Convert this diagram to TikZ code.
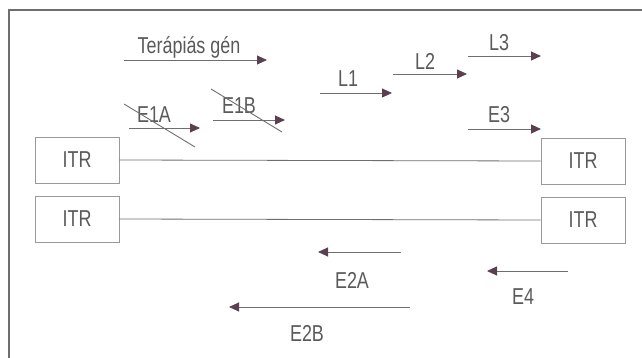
\documentclass[tikz,border=0pt]{standalone}
\usepackage{fontspec}
\setmainfont{Liberation Sans}[FakeStretch=0.78]
\usepackage{xcolor}
\usetikzlibrary{arrows.meta}
\definecolor{txtgray}{HTML}{5A5A5A}
\definecolor{linegray}{HTML}{6E6E6E}
\definecolor{tipred}{HTML}{5B4050}

\begin{document}
\begin{tikzpicture}[x=1pt,y=-1pt,font=\fontsize{23}{27}\selectfont,
  lbl/.style={text=txtgray,inner sep=0pt},
  itrbox/.style={draw=linegray!70,line width=0.6pt,minimum width=84pt,minimum height=46pt,text=txtgray,inner sep=0pt},
  dna/.style={draw=linegray,line width=0.8pt},
  gene/.style={draw=linegray,line width=0.9pt,-{Triangle[length=10pt,width=9pt,fill=tipred,color=tipred]}},
  strike/.style={draw=linegray,line width=0.9pt}]
\useasboundingbox (0,0) rectangle (642,358);
\draw[linegray,line width=1.3pt] (9,358) -- (9,10) -- (642,10);

\node[itrbox] (itrA) at (77,160) {ITR};
\node[itrbox] (itrB) at (583,161) {ITR};
\node[itrbox] (itrC) at (77,219) {ITR};
\node[itrbox] (itrD) at (583,220) {ITR};
\draw[dna] (itrA.east) -- (itrB.west);
\draw[dna] (itrC.east) -- (itrD.west);

% upper strand, rightward
\coordinate (tg0) at (124,60); \coordinate (tg1) at (267,60);
\coordinate (e1a0) at (129,128); \coordinate (e1a1) at (200,128);
\coordinate (e1b0) at (213,120); \coordinate (e1b1) at (285,120);
\coordinate (l10) at (320,93); \coordinate (l11) at (392,93);
\coordinate (l20) at (393,74); \coordinate (l21) at (467,74);
\coordinate (l30) at (468,56); \coordinate (l31) at (541,56);
\coordinate (e30) at (468,129); \coordinate (e31) at (541,129);
\draw[gene] (tg0) -- (tg1);
\draw[gene] (e1a0) -- (e1a1);
\draw[gene] (e1b0) -- (e1b1);
\draw[gene] (l10) -- (l11);
\draw[gene] (l20) -- (l21);
\draw[gene] (l30) -- (l31);
\draw[gene] (e30) -- (e31);
\node[lbl] (tglab) at (189,47) {Terápiás gén};
\node[lbl] (e1alab) at (154,115) {E1A};
\node[lbl] (e1blab) at (239,106) {E1B};
\node[lbl] (l1lab) at (348,79) {L1};
\node[lbl] (l2lab) at (425,61) {L2};
\node[lbl] (l3lab) at (499,43) {L3};
\node[lbl] (e3lab) at (499,115) {E3};
% deleted regions
\coordinate (sa0) at (124,104); \coordinate (sa1) at (195,147);
\coordinate (sb0) at (211,89); \coordinate (sb1) at (282,132);
\draw[strike] (sa0) -- (sa1);
\draw[strike] (sb0) -- (sb1);

% lower strand, leftward
\coordinate (e2a0) at (401,252); \coordinate (e2a1) at (318,252);
\coordinate (e40) at (568,271); \coordinate (e41) at (487,271);
\coordinate (e2b0) at (410,307); \coordinate (e2b1) at (229,307);
\draw[gene] (e2a0) -- (e2a1);
\draw[gene] (e40) -- (e41);
\draw[gene] (e2b0) -- (e2b1);
\node[lbl] (e2alab) at (352,280) {E2A};
\node[lbl] (e4lab) at (523,297) {E4};
\node[lbl] (e2blab) at (307,333) {E2B};
\end{tikzpicture}
\end{document}
